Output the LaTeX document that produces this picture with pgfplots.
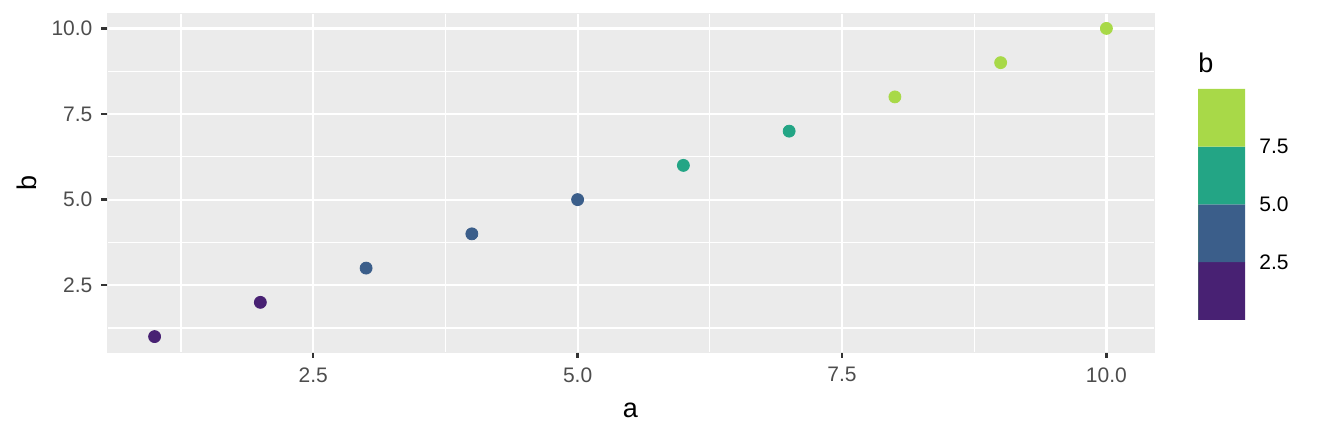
\documentclass[border=0pt]{standalone}
\usepackage{pgfplots}
\pgfplotsset{compat=1.18}
\usepackage{fontspec}
\setmainfont{Liberation Sans}
\definecolor{panel}{HTML}{EBEBEB}
\definecolor{ticklab}{HTML}{4D4D4D}
\definecolor{tickcol}{HTML}{333333}
\definecolor{vA}{HTML}{482173}
\definecolor{vB}{HTML}{3B5E8A}
\definecolor{vC}{HTML}{23A585}
\definecolor{vD}{HTML}{A8D948}
\begin{document}
\begin{tikzpicture}[x=1pt,y=1pt]
\useasboundingbox (0,0) rectangle (660,219);
\begin{axis}[
  at={(53.5pt,43pt)}, anchor=south west,
  scale only axis, width=523.5pt, height=169.5pt,
  xmin=0.55, xmax=10.45, ymin=0.55, ymax=10.45,
  axis background/.style={fill=panel},
  axis line style={draw=panel, line width=0.1pt},
  xtick={2.5,5,7.5,10}, ytick={2.5,5,7.5,10},
  minor xtick={1.25,3.75,6.25,8.75}, minor ytick={1.25,3.75,6.25,8.75},
  grid=both,
  major grid style={white, line width=1.1pt},
  minor grid style={white, line width=0.55pt},
  xtick align=outside, ytick align=outside,
  xtick pos=bottom, ytick pos=left,
  major tick length=2.8pt, minor tick length=0pt,
  every major tick/.append style={line width=1.2pt},
  xtick style={draw=tickcol, line width=1.2pt},
  ytick style={draw=tickcol, line width=1.2pt},
  tick label style={font=\fontsize{10.5}{12}\selectfont, color=ticklab},
  xticklabel style={inner sep=0pt, anchor=north, yshift=-4.7pt},
  yticklabel style={inner sep=0pt, anchor=east, xshift=-4.3pt},
  /pgf/number format/.cd, fixed, fixed zerofill, precision=1, assume math mode=true, /pgfplots/.cd,
  xlabel={a}, ylabel={b},
  every axis x label/.style={at={(axis description cs:0.5,0)}, anchor=center, inner sep=0pt, yshift=-29pt, font=\fontsize{13.5}{15}\selectfont},
  every axis y label/.style={at={(axis description cs:0,0.5)}, rotate=90, anchor=center, inner sep=0pt, yshift=40pt, font=\fontsize{13.5}{15}\selectfont},
]
\addplot[only marks, mark=*, mark size=3pt, color=vA] coordinates {(1,1) (2,2)};
\addplot[only marks, mark=*, mark size=3pt, color=vB] coordinates {(3,3) (4,4) (5,5)};
\addplot[only marks, mark=*, mark size=3pt, color=vC] coordinates {(6,6) (7,7)};
\addplot[only marks, mark=*, mark size=3pt, color=vD] coordinates {(8,8) (9,9) (10,10)};
\end{axis}
\begin{axis}[
  at={(599pt,59pt)}, anchor=south west,
  scale only axis, width=23.5pt, height=115.5pt,
  xmin=0, xmax=1, ymin=0, ymax=10,
  axis line style={draw=none},
  xtick=\empty, ytick={2.5,5,7.5},
  yticklabel pos=right, major tick length=0pt,
  tick label style={font=\fontsize{10.5}{12}\selectfont, color=black},
  yticklabel style={inner sep=0pt, anchor=west, xshift=7pt},
  /pgf/number format/.cd, fixed, fixed zerofill, precision=1, assume math mode=true, /pgfplots/.cd,
  title={b},
  every axis title/.style={at={(axis description cs:0,1)}, anchor=base west, inner sep=0pt, yshift=8pt, font=\fontsize{13.5}{15}\selectfont},
]
\addplot[fill=vA, draw=none] coordinates {(0,0) (1,0) (1,2.5) (0,2.5)} \closedcycle;
\addplot[fill=vB, draw=none] coordinates {(0,2.5) (1,2.5) (1,5) (0,5)} \closedcycle;
\addplot[fill=vC, draw=none] coordinates {(0,5) (1,5) (1,7.5) (0,7.5)} \closedcycle;
\addplot[fill=vD, draw=none] coordinates {(0,7.5) (1,7.5) (1,10) (0,10)} \closedcycle;
\end{axis}
\end{tikzpicture}
\end{document}
